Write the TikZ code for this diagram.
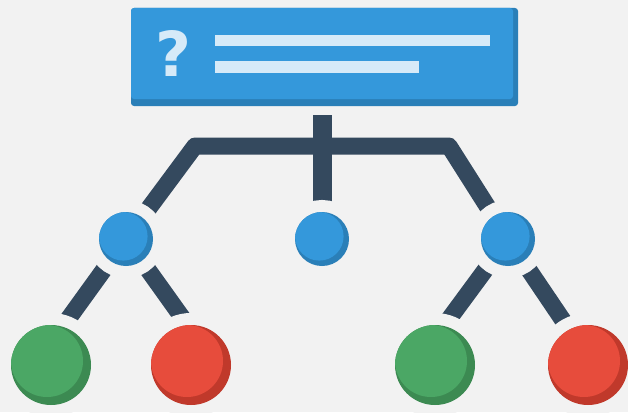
\documentclass[tikz,border=0pt]{standalone}
\usepackage{fontspec}
\newfontfamily\qmfont{DejaVu Sans}
\usetikzlibrary{positioning, backgrounds}
\definecolor{bgc}{HTML}{F2F2F2}
\definecolor{blueL}{HTML}{3498DB}
\definecolor{blueD}{HTML}{2A7FB8}
\definecolor{navy}{HTML}{34495E}
\definecolor{barc}{HTML}{D6EAF8}
\definecolor{greenL}{HTML}{4BA765}
\definecolor{greenD}{HTML}{3C8A52}
\definecolor{redL}{HTML}{E74C3C}
\definecolor{redD}{HTML}{C0392B}
\tikzset{
    qbox/.style={rectangle, rounded corners=3pt, fill=blueD, minimum width=387pt, minimum height=98pt,
        path picture={\fill[blueL, rounded corners=3pt] (path picture bounding box.north west) rectangle ([xshift=-5pt, yshift=7pt]path picture bounding box.south east);}},
    qmark/.style={inner sep=0pt, text=barc, font=\qmfont\bfseries\fontsize{62}{62}\selectfont},
    textbar/.style={fill=barc},
    circ/.style n args={3}{circle, inner sep=0pt, minimum size=#1, fill=#3,
        preaction={draw=bgc, line width=24pt},
        path picture={\fill[#2] ([xshift=-0.05*#1, yshift=0.05*#1]path picture bounding box.center) circle (0.45*#1);}},
    choice/.style={circ={54pt}{blueL}{blueD}},
    yes/.style={circ={80pt}{greenL}{greenD}},
    no/.style={circ={80pt}{redL}{redD}},
    branch/.style={draw=navy, line width=17pt, line join=round}
}
\begin{document}
\begin{tikzpicture}[x=1pt, y=-1pt]
    \useasboundingbox (0,0) rectangle (628,412);

    % Question box
    \node[qbox] (Q) at (324.5,57) {};
    \node[qmark] (QM) at (173,53) {?};
    \fill[textbar] (215,35) rectangle (490,46);
    \fill[textbar] (215,61) rectangle (419,73);

    % Choices
    \node[choice] (C1) at (126,239) {};
    \node[choice] (C2) at (322,239) {};
    \node[choice] (C3) at (508,239) {};

    % Outcomes
    \node[yes] (G1) at (51,365) {};
    \node[no]  (R1) at (191,365) {};
    \node[yes] (G2) at (435,365) {};
    \node[no]  (R2) at (588,365) {};

    \coordinate (JL) at (195,146);
    \coordinate (JR) at (449,146);
    \coordinate (ST) at ([yshift=-9pt]C2 |- Q.south);

    % Branches
    \begin{pgfonlayer}{background}
        \fill[bgc] (0,0) rectangle (628,412);
        \draw[branch, line width=19pt] (ST) -- (C2.center);
        \draw[branch] (C1.center) -- (JL) -- (JR) -- (C3.center);
        \draw[branch] (C1.center) -- (G1.73);
        \draw[branch] (C1.center) -- (R1.95);
        \draw[branch] (C3.center) -- (G2.77);
        \draw[branch] (C3.center) -- (R2.118);
    \end{pgfonlayer}
\end{tikzpicture}
\end{document}
